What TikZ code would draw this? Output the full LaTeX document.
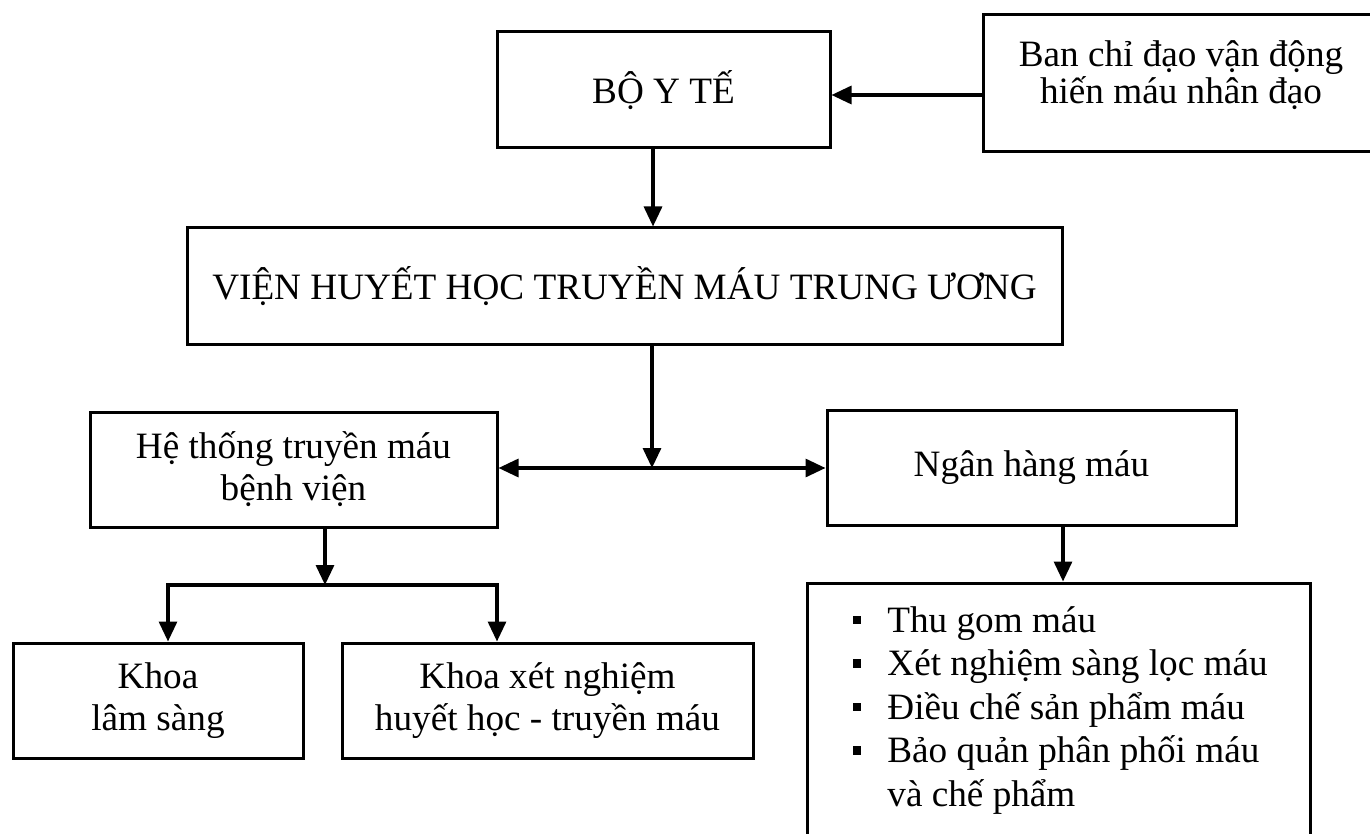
\documentclass[tikz,border=0pt]{standalone}
\usepackage{fontspec}
\setmainfont{Liberation Serif}
\usetikzlibrary{arrows.meta}
\begin{document}
\begin{tikzpicture}[x=0.5pt,y=-0.5pt,
  box/.style={draw, line width=1.5pt, rectangle, inner sep=0pt, align=center,
    font=\fontsize{18.6pt}{21pt}\selectfont},
  txt/.style={inner sep=0pt, align=center, font=\fontsize{18.6pt}{21pt}\selectfont},
  item/.style={inner sep=0pt, anchor=base west, font=\fontsize{18.6pt}{21pt}\selectfont},
  bul/.style={fill=black, inner sep=0pt, minimum size=4.2pt},
  arr/.style={line width=1.6pt, -{Triangle[length=10pt,width=9pt]}},
  darr/.style={line width=1.6pt, {Triangle[length=10pt,width=9pt]}-{Triangle[length=10pt,width=9pt]}}]
\fill[white] (0,0) rectangle (1370,834);
\clip (0,0) rectangle (1370,834);
% boxes
\node[box, minimum width=166.5pt, minimum height=58pt] (boyte) at (663.5,90) {BỘ Y TẾ};
\node[box, minimum width=208.5pt, minimum height=68.5pt] (ban) at (1191.5,83.5) {};
\node[txt, font=\fontsize{18.6pt}{18.5pt}\selectfont] (bantext) at (1181,75) {Ban chỉ đạo vận động\\hiến máu nhân đạo};
\node[box, minimum width=437.5pt, minimum height=58pt] (vien) at (624.5,286) {VIỆN HUYẾT HỌC TRUYỀN MÁU TRUNG ƯƠNG};
\node[box, minimum width=203.5pt, minimum height=57.5pt] (he) at (293.5,469.5) {Hệ thống truyền máu\\bệnh viện};
\node[box, minimum width=204.5pt, minimum height=57.5pt] (ngan) at (1031.5,467.5) {Ngân hàng máu};
\node[box, minimum width=145pt, minimum height=57.5pt] (khoa1) at (158,700.5) {Khoa\\lâm sàng};
\node[box, minimum width=205.5pt, minimum height=57.5pt] (khoa2) at (547.5,700.5) {Khoa xét nghiệm\\huyết học - truyền máu};
\node[box, minimum width=251.5pt, minimum height=158.5pt] (list) at (1058.5,741.5) {};
% list content
\node[bul] (b1) at (857,620) {};
\node[bul] (b2) at (857,663.5) {};
\node[bul] (b3) at (857,707) {};
\node[bul] (b4) at (857,750.5) {};
\node[item] (i1) at (887,632) {Thu gom máu};
\node[item] (i2) at (887,675.5) {Xét nghiệm sàng lọc máu};
\node[item] (i3) at (887,719) {Điều chế sản phẩm máu};
\node[item] (i4) at (887,762.5) {Bảo quản phân phối máu};
\node[item] (i5) at (887,806) {và chế phẩm};
% helper coordinates
\coordinate (y95) at (0,95);
\coordinate (c1) at (653,0);
\coordinate (j) at (652,468);
\coordinate (k) at (325,585);
\coordinate (bl) at (168,585);
\coordinate (br) at (497,585);
\coordinate (c2) at (1063,0);
% connectors
\draw[arr] (ban.west |- y95) -- (boyte.east |- y95);
\draw[arr] (boyte.south -| c1) -- (vien.north -| c1);
\draw[arr] (vien.south -| j) -- (j);
\draw[darr] (j -| he.east) -- (j -| ngan.west);
\draw[arr] (he.south -| k) -- (k);
\draw[darr] (khoa1.north -| bl) -- (bl) -- (br) -- (khoa2.north -| br);
\draw[arr] (ngan.south -| c2) -- (list.north -| c2);
\end{tikzpicture}
\end{document}
